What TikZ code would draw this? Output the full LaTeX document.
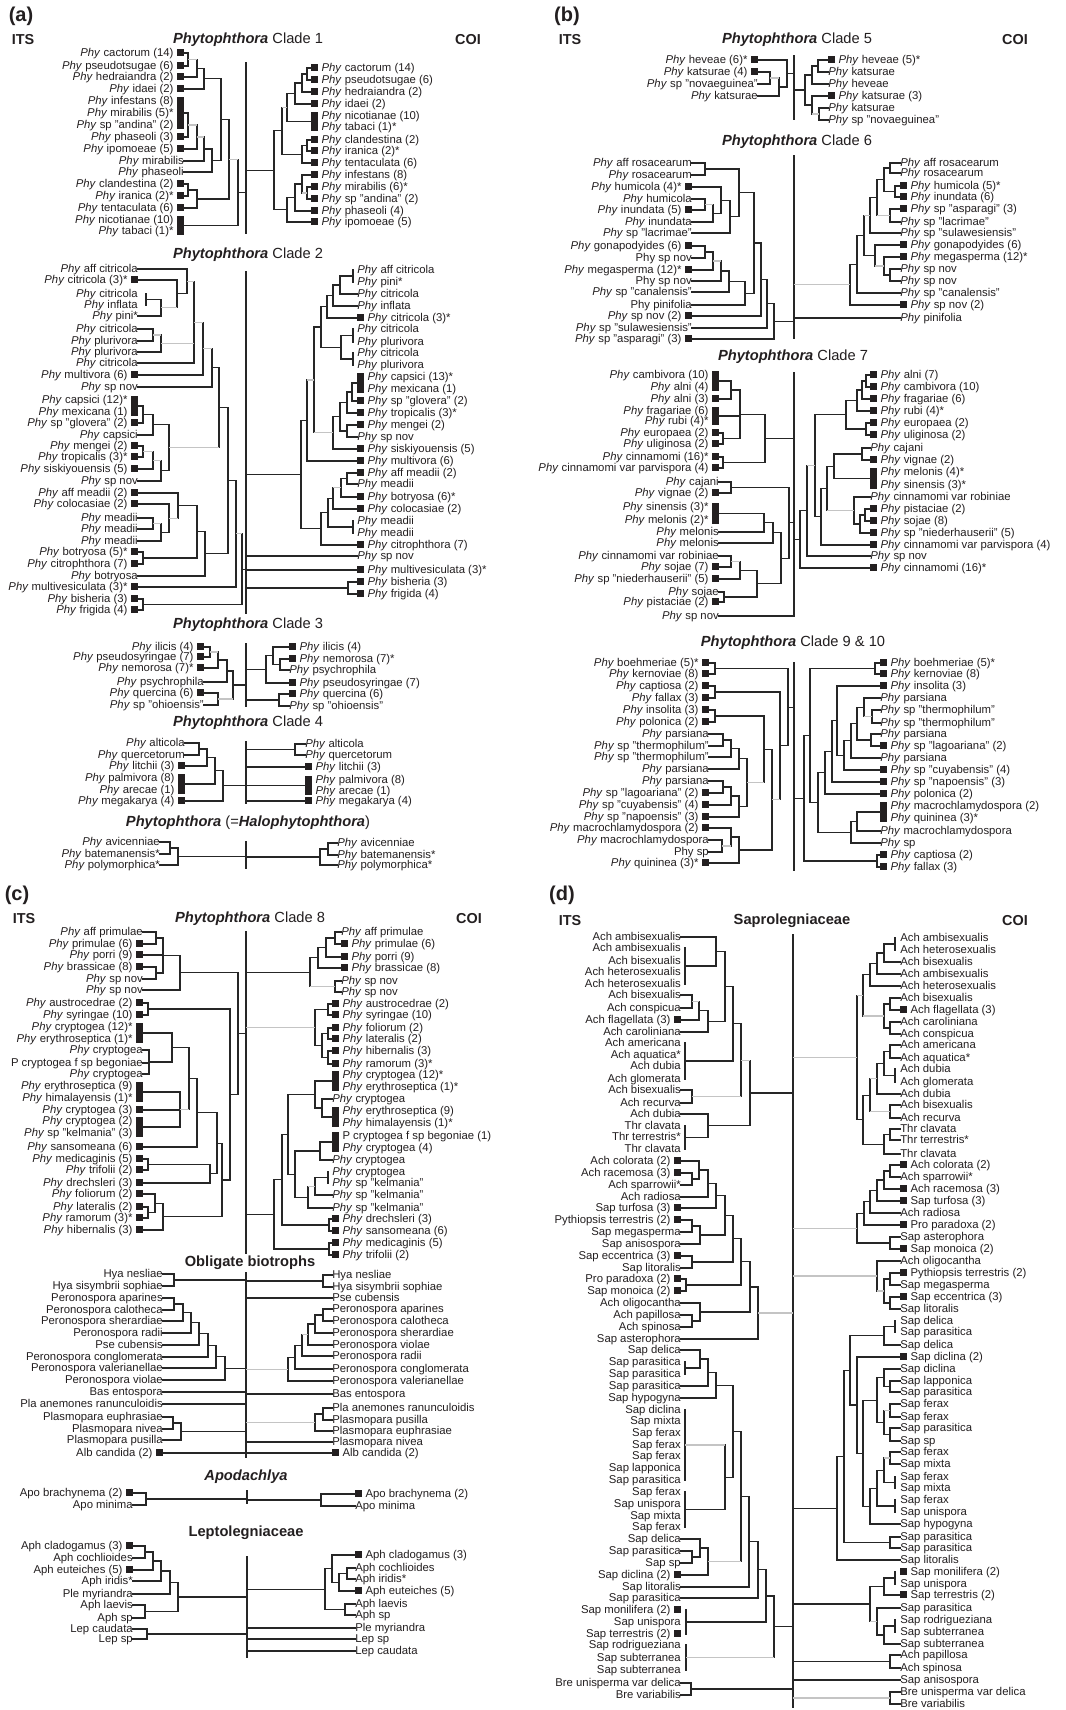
\documentclass[tikz,border=0pt]{standalone}
\usepackage{fontspec}
\setmainfont{Liberation Sans}
\usetikzlibrary{calc}
\definecolor{lc}{HTML}{262626}
\definecolor{gc}{HTML}{C4C4C4}
\definecolor{tc}{HTML}{231F20}
\newcommand\leaffont{\fontsize{8.5}{10}\selectfont}
\newcommand\ttlfont{\fontsize{11}{13}\selectfont}
\newcommand\pnlfont{\fontsize{15}{18}\selectfont\bfseries}
\newcommand\hdrfont{\fontsize{10.8}{13}\selectfont\bfseries}
\newcommand\Ph{\textit{Phy} }
\newcommand\sqbox{\rule{5.2pt}{5.2pt}}
\newcommand\sL{\hspace{2.5pt}\sqbox}
\newcommand\sR{\sqbox\hspace{2.5pt}}
\newcommand\pL{\hspace{2.5pt}\phantom{\sqbox}}
\newcommand\pR{\phantom{\sqbox}\hspace{2.5pt}}
\newcommand\Phyt{\textbf{\textit{Phytophthora}}}
\tikzset{
 br/.style={draw=lc,line width=0.85pt,line cap=rect},
 brg/.style={draw=gc,line width=0.85pt},
 lf/.style={inner sep=0pt,text height=6.2pt,text depth=1.6pt,font=\leaffont,text=tc},
 ttl/.style={inner sep=0pt,font=\ttlfont,text=tc},
 pnl/.style={inner sep=0pt,font=\pnlfont,text=tc},
 hdr/.style={inner sep=0pt,font=\hdrfont,text=tc}
}
\newcommand\lfL[3]{\node[lf,anchor=east] (#1) at (\XL,#2) {#3};}
\newcommand\lfR[3]{\node[lf,anchor=west] (#1) at (\XR,#2) {#3};}
\newcommand\grpL[3]{\fill[tc] ({\XL-6.9},{#2-3.6}) rectangle (\XL,{#3+3.6});\coordinate (#1) at (\XL,{(#2+#3)/2});}
\newcommand\grpR[3]{\fill[tc] (\XR,{#2-3.6}) rectangle ({\XR+6.9},{#3+3.6});\coordinate (#1) at (\XR,{(#2+#3)/2});}
\newcommand\inode[3]{%
 \coordinate (tmpx) at (#2,0);
 \foreach \kid [count=\kn] in {#3}{%
   \ifnum\kn=1 \xdef\firstc{\kid}\fi
   \xdef\lastc{\kid}%
   \draw[br] (\kid) -- (\kid -| tmpx);
 }%
 \draw[br] (\firstc -| tmpx) -- (\lastc -| tmpx);
 \path (\firstc -| tmpx) -- (\lastc -| tmpx) coordinate[pos=0.5] (#1);
}
\newcommand\vbr[4]{%
 \coordinate (tmpx) at (#2,0);
 \draw[br] (#3 -| tmpx) -- (#4 -| tmpx);
 \path (#3 -| tmpx) -- (#4 -| tmpx) coordinate[pos=0.5] (#1);
}
\newcommand\gry[2]{\draw[brg] (#1) -- (#1 -| #2);}
\newcommand\ctr[2]{\draw[br] (#1) -- (#1 -| #2);}
\newcommand\ctrg[2]{\draw[brg] (#1) -- (#1 -| #2);}
\begin{document}
\begin{tikzpicture}[x=0.75pt,y=-0.75pt]
\fill[white] (0,0) rectangle (1065,1710);
\useasboundingbox (0,0) rectangle (1065,1710);
% ================= PANEL A =================
\node[pnl] (pa) at (21,16) {(a)};
\node[hdr] (itsa) at (23,40) {ITS};
\node[hdr] (coia) at (468,40) {COI};
\node[ttl] (t1) at (248,40) {\Phyt\ Clade 1};
% ---- Clade 1 ITS
\def\XL{184}
\lfL{a1l1}{53}{\Ph cactorum (14)\sL}
\lfL{a1l2}{66}{\Ph pseudotsugae (6)\sL}
\lfL{a1l3}{77}{\Ph hedraiandra (2)\sL}
\lfL{a1l4}{89}{\Ph idaei (2)\sL}
\lfL{a1l5}{101}{\Ph infestans (8)\pL}
\lfL{a1l6}{113}{\Ph mirabilis (5)*\pL}
\lfL{a1l7}{125}{\Ph sp "andina" (2)\pL}
\grpL{a1g1}{101}{125}
\lfL{a1l8}{137}{\Ph phaseoli (3)\sL}
\lfL{a1l9}{149}{\Ph ipomoeae (5)\sL}
\lfL{a1l10}{161}{\Ph mirabilis}
\lfL{a1l11}{172}{\Ph phaseoli}
\lfL{a1l12}{184}{\Ph clandestina (2)\sL}
\lfL{a1l13}{196}{\Ph iranica (2)*\sL}
\lfL{a1l14}{208}{\Ph tentaculata (6)\sL}
\lfL{a1l15}{220}{\Ph nicotianae (10)\pL}
\lfL{a1l16}{231}{\Ph tabaci (1)*\pL}
\grpL{a1g2}{220}{231}
\inode{a1lA}{188}{a1l1,a1l2}
\inode{a1lB}{197}{a1lA,a1l3}\gry{a1lA}{a1lB}
\inode{a1lC}{204}{a1lB,a1l4}
\inode{a1lD}{188}{a1g1,a1l8}
\inode{a1lE}{197}{a1lD,a1l9}\gry{a1lD}{a1lE}
\inode{a1lF}{204}{a1lE,a1l10}\gry{a1lE}{a1lF}
\inode{a1lG}{212}{a1lF,a1l11}
\inode{a1lH}{221}{a1lC,a1lG}
\inode{a1lI}{188}{a1l12,a1l13}
\inode{a1lJ}{197}{a1lI,a1l14}
\inode{a1lK}{229}{a1lH,a1lJ}
\inode{a1lL}{238}{a1lK,a1g2}\gry{a1lK}{a1lL}
\coordinate (a1c) at (246,63); \coordinate (a1cb) at (246,233);
\draw[br] (a1c) -- (a1cb);
\ctr{a1lL}{a1c}
% ---- Clade 1 COI
\def\XR{311}
\lfR{a1r1}{68}{\sR\Ph cactorum (14)}
\lfR{a1r2}{80}{\sR\Ph pseudotsugae (6)}
\lfR{a1r3}{92}{\sR\Ph hedraiandra (2)}
\lfR{a1r4}{104}{\sR\Ph idaei (2)}
\lfR{a1r5}{116}{\pR\Ph nicotianae (10)}
\lfR{a1r6}{127}{\pR\Ph tabaci (1)*}
\grpR{a1h1}{116}{127}
\lfR{a1r7}{140}{\sR\Ph clandestina (2)}
\lfR{a1r8}{151}{\sR\Ph iranica (2)*}
\lfR{a1r9}{163}{\sR\Ph tentaculata (6)}
\lfR{a1r10}{175}{\sR\Ph infestans (8)}
\lfR{a1r11}{187}{\sR\Ph mirabilis (6)*}
\lfR{a1r12}{199}{\sR\Ph sp "andina" (2)}
\lfR{a1r13}{211}{\sR\Ph phaseoli (4)}
\lfR{a1r14}{222}{\sR\Ph ipomoeae (5)}
\inode{a1rA}{307}{a1r1,a1r2}
\inode{a1rB}{302}{a1rA,a1r3}
\inode{a1rC}{295}{a1rB,a1r4}
\inode{a1rD}{287}{a1rC,a1h1}
\inode{a1rE}{307}{a1r7,a1r8}
\inode{a1rF}{302}{a1rE,a1r9}
\inode{a1rG}{282}{a1rD,a1rF}\gry{a1rD}{a1rG}
\inode{a1rH}{307}{a1r11,a1r12}
\inode{a1rI}{302}{a1r10,a1rH}\gry{a1rH}{a1rI}
\inode{a1rJ}{295}{a1rI,a1r13}
\inode{a1rK}{287}{a1rJ,a1r14}
\inode{a1rL}{274}{a1rG,a1rK}
\ctr{a1rL}{a1c}
% ---- Clade 2
\node[ttl] (t2) at (248,255) {\Phyt\ Clade 2};
\def\XL{138}
\lfL{a2l1}{269}{\Ph aff citricola}
\lfL{a2l2}{280}{\Ph citricola (3)*\sL}
\lfL{a2l3}{294}{\Ph citricola}
\lfL{a2l4}{305}{\Ph inflata}
\lfL{a2l5}{316}{\Ph pini*}
\lfL{a2l6}{329}{\Ph citricola}
\lfL{a2l7}{341}{\Ph plurivora}
\lfL{a2l8}{352}{\Ph plurivora}
\lfL{a2l9}{363}{\Ph citricola}
\lfL{a2l10}{375}{\Ph multivora (6)\sL}
\lfL{a2l11}{387}{\Ph sp nov}
\lfL{a2l12}{400}{\Ph capsici (12)*\pL}
\lfL{a2l13}{412}{\Ph mexicana (1)\pL}
\grpL{a2g1}{400}{412}
\lfL{a2l14}{423}{\Ph sp "glovera" (2)\sL}
\lfL{a2l15}{435}{\Ph capsici}
\lfL{a2l16}{446}{\Ph mengei (2)\sL}
\lfL{a2l17}{457}{\Ph tropicalis (3)*\sL}
\lfL{a2l18}{469}{\Ph siskiyouensis (5)\sL}
\lfL{a2l19}{481}{\Ph sp nov}
\lfL{a2l20}{493}{\Ph aff meadii (2)\sL}
\lfL{a2l21}{504}{\Ph colocasiae (2)\sL}
\lfL{a2l22}{518}{\Ph meadii}
\lfL{a2l23}{529}{\Ph meadii}
\lfL{a2l24}{541}{\Ph meadii}
\lfL{a2l25}{552}{\Ph botryosa (5)*\sL}
\lfL{a2l26}{564}{\Ph citrophthora (7)\sL}
\lfL{a2l27}{576}{\Ph botryosa}
\lfL{a2l28}{587}{\Ph multivesiculata (3)*\sL}
\lfL{a2l29}{599}{\Ph bisheria (3)\sL}
\lfL{a2l30}{610}{\Ph frigida (4)\sL}
\vbr{a2lA}{146}{a2l3}{a2l4}
\inode{a2lB}{161}{a2lA,a2l5}
\inode{a2lC}{177}{a2l2,a2lB}\gry{a2lB}{a2lC}
\inode{a2lG}{187}{a2l1,a2lC}
\inode{a2lD}{153}{a2l6,a2l7}
\inode{a2lE}{161}{a2lD,a2l8}\gry{a2lD}{a2lE}
\inode{a2lH}{194}{a2lG,a2lE,a2l9}\gry{a2lG}{a2lH}\gry{a2lE}{a2lH}
\inode{a2lI}{203}{a2lH,a2l10}\gry{a2lH}{a2lI}
\inode{a2lJ}{212}{a2lI,a2l11}\gry{a2lI}{a2lJ}
\inode{a2lK}{143}{a2g1,a2l14}
\inode{a2lL}{153}{a2lK,a2l15}
\inode{a2lM}{143}{a2l16,a2l17}
\inode{a2lN}{153}{a2lM,a2l18}\gry{a2lM}{a2lN}
\inode{a2lO}{161}{a2lN,a2l19}\gry{a2lN}{a2lO}
\inode{a2lP}{169}{a2lL,a2lO}
\inode{a2lQ}{219}{a2lJ,a2lP}\gry{a2lP}{a2lQ}
\inode{a2lR}{153}{a2l22,a2l23}
\inode{a2lS}{161}{a2lR,a2l24}\gry{a2lR}{a2lS}
\inode{a2lT0}{169}{a2l21,a2lS}
\inode{a2lT}{178}{a2l20,a2lT0}\gry{a2lT0}{a2lT}
\inode{a2lU}{143}{a2l25,a2l26}
\inode{a2lV}{197}{a2lT,a2lU}
\inode{a2lW}{205}{a2lV,a2l27}
\inode{a2lX}{228}{a2lQ,a2lW}
\inode{a2lY}{236}{a2lX,a2l28}
\inode{a2lZ}{143}{a2l29,a2l30}
\inode{a2lRt}{242}{a2lY,a2lZ}\gry{a2lY}{a2lRt}
\coordinate (a2c) at (246,272); \coordinate (a2cb) at (246,613);
\draw[br] (a2c) -- (a2cb);
\ctr{a2lRt}{a2c}
\def\XR{357}
\lfR{a2r1}{270}{\Ph aff citricola}
\lfR{a2r2}{282}{\Ph pini*}
\lfR{a2r3}{294}{\Ph citricola}
\lfR{a2r4}{306}{\Ph inflata}
\lfR{a2r5}{318}{\sR\Ph citricola (3)*}
\lfR{a2r6}{329}{\Ph citricola}
\lfR{a2r7}{342}{\Ph plurivora}
\lfR{a2r8}{353}{\Ph citricola}
\lfR{a2r9}{365}{\Ph plurivora}
\lfR{a2r10}{377}{\pR\Ph capsici (13)*}
\lfR{a2r11}{389}{\pR\Ph mexicana (1)}
\grpR{a2h1}{377}{389}
\lfR{a2r12}{401}{\sR\Ph sp "glovera" (2)}
\lfR{a2r13}{413}{\sR\Ph tropicalis (3)*}
\lfR{a2r14}{425}{\sR\Ph mengei (2)}
\lfR{a2r15}{437}{\Ph sp nov}
\lfR{a2r16}{449}{\sR\Ph siskiyouensis (5)}
\lfR{a2r17}{461}{\sR\Ph multivora (6)}
\lfR{a2r18}{473}{\sR\Ph aff meadii (2)}
\lfR{a2r19}{484}{\Ph meadii}
\lfR{a2r20}{497}{\sR\Ph botryosa (6)*}
\lfR{a2r21}{509}{\sR\Ph colocasiae (2)}
\lfR{a2r22}{521}{\Ph meadii}
\lfR{a2r23}{533}{\Ph meadii}
\lfR{a2r24}{545}{\sR\Ph citrophthora (7)}
\lfR{a2r25}{556}{\Ph sp nov}
\lfR{a2r26}{570}{\sR\Ph multivesiculata (3)*}
\lfR{a2r27}{582}{\sR\Ph bisheria (3)}
\lfR{a2r28}{594}{\sR\Ph frigida (4)}
\vbr{a2rb1}{353}{a2r1}{a2r2}
\inode{a2rA}{340}{a2rb1,a2r3}
\inode{a2rB}{333}{a2rA,a2r4}
\inode{a2rC}{327}{a2rB,a2r5}
\vbr{a2rb2}{353}{a2r6}{a2r7}
\vbr{a2rb3}{353}{a2r8}{a2r9}
\inode{a2rD}{341}{a2rb2,a2rb3}
\inode{a2rE}{321}{a2rC,a2rD}
\inode{a2rF0}{352}{a2h1,a2r12}
\inode{a2rF1}{347}{a2rF0,a2r13}
\inode{a2rF2}{347}{a2r14,a2r15}
\inode{a2rF3}{340}{a2rF1,a2rF2}
\inode{a2rF4}{333}{a2rF3,a2r16}
\inode{a2rF}{314}{a2rE,a2rF4}\gry{a2rF4}{a2rF}
\inode{a2rG}{307}{a2rF,a2r17}\gry{a2rF}{a2rG}
\inode{a2rH0}{347}{a2r18,a2r19}
\inode{a2rH1}{341}{a2rH0,a2r20}
\inode{a2rH2}{333}{a2rH1,a2r21}\gry{a2rH1}{a2rH2}
\vbr{a2rb4}{353}{a2r22}{a2r23}
\inode{a2rH3}{328}{a2rH2,a2rb4}
\inode{a2rH4}{321}{a2rH3,a2r24}
\inode{a2rI}{301}{a2rG,a2rH4}
\ctr{a2rI}{a2c}
\ctr{a2r25}{a2c}
\ctr{a2r26}{a2c}
\inode{a2rJ}{348}{a2r27,a2r28}
\ctr{a2rJ}{a2c}
% ---- Clade 3
\node[ttl] (t3) at (248,625) {\Phyt\ Clade 3};
\def\XL{204}
\lfL{a3l1}{647}{\Ph ilicis (4)\sL}
\lfL{a3l2}{657}{\Ph pseudosyringae (7)\sL}
\lfL{a3l3}{668}{\Ph nemorosa (7)*\sL}
\lfL{a3l4}{682}{\Ph psychrophila}
\lfL{a3l5}{693}{\Ph quercina (6)\sL}
\lfL{a3l6}{705}{\Ph sp "ohioensis"}
\inode{a3lA}{210}{a3l1,a3l2}
\inode{a3lB}{218}{a3lA,a3l3}\gry{a3lA}{a3lB}
\inode{a3lC}{227}{a3lB,a3l4}
\inode{a3lD}{218}{a3l5,a3l6}
\inode{a3lE}{233}{a3lC,a3lD}\gry{a3lD}{a3lE}
\coordinate (a3c) at (246,644); \coordinate (a3cb) at (246,706);
\draw[br] (a3c) -- (a3cb);
\ctr{a3lE}{a3c}
\def\XR{289}
\lfR{a3r1}{647}{\sR\Ph ilicis (4)}
\lfR{a3r2}{659}{\sR\Ph nemorosa (7)*}
\lfR{a3r3}{670}{\Ph psychrophila}
\lfR{a3r4}{683}{\sR\Ph pseudosyringae (7)}
\lfR{a3r5}{694}{\sR\Ph quercina (6)}
\lfR{a3r6}{706}{\Ph sp "ohioensis"}
\inode{a3rA}{280}{a3r2,a3r3}
\inode{a3rB}{273}{a3r1,a3rA}
\inode{a3rC}{266}{a3rB,a3r4}
\ctr{a3rC}{a3c}
\inode{a3rD}{279}{a3r5,a3r6}
\ctr{a3rD}{a3c}
% ---- Clade 4
\node[ttl] (t4) at (248,723) {\Phyt\ Clade 4};
\def\XL{185}
\lfL{a4l1}{743}{\Ph alticola}
\lfL{a4l2}{755}{\Ph quercetorum}
\lfL{a4l3}{766}{\Ph litchii (3)\sL}
\lfL{a4l4}{778}{\Ph palmivora (8)\pL}
\lfL{a4l5}{790}{\Ph arecae (1)\pL}
\grpL{a4g1}{778}{790}
\lfL{a4l6}{801}{\Ph megakarya (4)\sL}
\inode{a4lA}{199}{a4l1,a4l2}
\inode{a4lB}{207}{a4lA,a4l3}
\inode{a4lC}{215}{a4lB,a4g1}
\inode{a4lD}{223}{a4lC,a4l6}
\coordinate (a4c) at (246,742); \coordinate (a4cb) at (246,803);
\draw[br] (a4c) -- (a4cb);
\ctr{a4lD}{a4c}
\def\XR{305}
\lfR{a4r1}{744}{\Ph alticola}
\lfR{a4r2}{755}{\Ph quercetorum}
\lfR{a4r3}{767}{\sR\Ph litchii (3)}
\lfR{a4r4}{780}{\pR\Ph palmivora (8)}
\lfR{a4r5}{791}{\pR\Ph arecae (1)}
\grpR{a4h1}{780}{791}
\lfR{a4r6}{801}{\sR\Ph megakarya (4)}
\inode{a4rA}{295}{a4r1,a4r2}
\ctr{a4rA}{a4c}
\ctr{a4r3}{a4c}
\ctr{a4h1}{a4c}
\ctr{a4r6}{a4c}
% ---- Halophytophthora
\node[ttl] (t5) at (248,823) {\Phyt\ (=\textbf{\textit{Halophytophthora}})};
\def\XL{160}
\lfL{ahl1}{842}{\Ph avicenniae}
\lfL{ahl2}{854}{\Ph batemanensis*}
\lfL{ahl3}{865}{\Ph polymorphica*}
\inode{ahlA}{170}{ahl1,ahl2}
\inode{ahlB}{178}{ahlA,ahl3}
\coordinate (ahc) at (246,842); \coordinate (ahcb) at (246,868);
\draw[br] (ahc) -- (ahcb);
\ctr{ahlB}{ahc}
\def\XR{337}
\lfR{ahr1}{843}{\Ph avicenniae}
\lfR{ahr2}{855}{\Ph batemanensis*}
\lfR{ahr3}{865}{\Ph polymorphica*}
\inode{ahrA}{328}{ahr1,ahr2}
\inode{ahrB}{320}{ahrA,ahr3}
\ctr{ahrB}{ahc}
% ================= PANEL B =================
\node[pnl] (pb) at (567,16) {(b)};
\node[hdr] (itsb) at (570,40) {ITS};
\node[hdr] (coib) at (1015,40) {COI};
\node[ttl] (t6) at (797,40) {\Phyt\ Clade 5};
\def\XL{758}
\lfL{b5l1}{60}{\Ph heveae (6)*\sL}
\lfL{b5l2}{72}{\Ph katsurae (4)\sL}
\lfL{b5l3}{84}{\Ph sp "novaeguinea"}
\lfL{b5l4}{96}{\Ph katsurae}
\inode{b5lA}{770}{b5l2,b5l3}
\inode{b5lB}{779}{b5lA,b5l4}\gry{b5lA}{b5lB}
\inode{b5lC}{787}{b5l1,b5lB}
\coordinate (b5c) at (794,56); \coordinate (b5cb) at (794,119);
\draw[br] (b5c) -- (b5cb);
\ctr{b5lC}{b5c}
\def\XR{828}
\lfR{b5r1}{60}{\sR\Ph heveae (5)*}
\lfR{b5r2}{72}{\Ph katsurae}
\lfR{b5r3}{84}{\Ph heveae}
\lfR{b5r4}{96}{\sR\Ph katsurae (3)}
\lfR{b5r5}{108}{\Ph katsurae}
\lfR{b5r6}{120}{\Ph sp "novaeguinea"}
\inode{b5rA}{818}{b5r1,b5r2}
\inode{b5rB}{812}{b5rA,b5r3}
\inode{b5rC}{819}{b5r5,b5r6}
\inode{b5rD}{812}{b5r4,b5rC}\gry{b5rC}{b5rD}
\inode{b5rE}{805}{b5rB,b5rD}
\ctr{b5rE}{b5c}
% ---- Clade 6
\node[ttl] (t7) at (797,142) {\Phyt\ Clade 6};
\def\XL{692}
\lfL{b6l1}{163}{\Ph aff rosacearum}
\lfL{b6l2}{175}{\Ph rosacearum}
\lfL{b6l3}{187}{\Ph humicola (4)*\sL}
\lfL{b6l4}{199}{\Ph humicola}
\lfL{b6l5}{210}{\Ph inundata (5)\sL}
\lfL{b6l6}{222}{\Ph inundata}
\lfL{b6l7}{233}{\Ph sp "lacrimae"}
\lfL{b6l8}{246}{\Ph gonapodyides (6)\sL}
\lfL{b6l9}{258}{Phy sp nov}
\lfL{b6l10}{270}{\Ph megasperma (12)*\sL}
\lfL{b6l11}{281}{Phy sp nov}
\lfL{b6l12}{292}{\Ph sp "canalensis"}
\lfL{b6l13}{305}{Phy pinifolia}
\lfL{b6l14}{316}{\Ph sp nov (2)\sL}
\lfL{b6l15}{328}{\Ph sp "sulawesiensis"}
\lfL{b6l16}{339}{\Ph sp "asparagi" (3)\sL}
\inode{b6lA}{705}{b6l1,b6l2}
\inode{b6lB}{705}{b6l4,b6l5}
\inode{b6lC}{713}{b6lB,b6l6}\gry{b6lB}{b6lC}
\inode{b6lD}{721}{b6l3,b6lC}
\inode{b6lE}{730}{b6lD,b6l7}
\inode{b6lF}{739}{b6lA,b6lE}
\inode{b6lG}{705}{b6l8,b6l9}
\inode{b6lH}{713}{b6lG,b6l10}
\inode{b6lI}{721}{b6lH,b6l11}\gry{b6lH}{b6lI}
\inode{b6lJ}{729}{b6lI,b6l12}
\inode{b6lK}{745}{b6lJ,b6l13}
\inode{b6lL}{754}{b6lF,b6lK}
\inode{b6lM}{761}{b6lL,b6l14}
\inode{b6lN}{767}{b6lM,b6l15}
\inode{b6lO}{774}{b6lN,b6l16}
\coordinate (b6c) at (794,156); \coordinate (b6cb) at (794,338);
\draw[br] (b6c) -- (b6cb);
\ctr{b6lO}{b6c}
\def\XR{900}
\lfR{b6r1}{163}{\Ph aff rosacearum}
\lfR{b6r2}{173}{\Ph rosacearum}
\lfR{b6r3}{186}{\sR\Ph humicola (5)*}
\lfR{b6r4}{197}{\sR\Ph inundata (6)}
\lfR{b6r5}{209}{\sR\Ph sp "asparagi" (3)}
\lfR{b6r6}{222}{\Ph sp "lacrimae"}
\lfR{b6r7}{233}{\Ph sp "sulawesiensis"}
\lfR{b6r8}{245}{\sR\Ph gonapodyides (6)}
\lfR{b6r9}{257}{\sR\Ph megasperma (12)*}
\lfR{b6r10}{269}{\Ph sp nov}
\lfR{b6r11}{281}{\Ph sp nov}
\lfR{b6r12}{293}{\Ph sp "canalensis"}
\lfR{b6r13}{305}{\sR\Ph sp nov (2)}
\lfR{b6r14}{318}{\Ph pinifolia}
\inode{b6rA}{890}{b6r1,b6r2}
\inode{b6rB}{895}{b6r3,b6r4}
\inode{b6rC}{884}{b6rA,b6rB}
\inode{b6rD}{890}{b6r5,b6r6}
\inode{b6rE}{877}{b6rC,b6rD}\gry{b6rD}{b6rE}
\inode{b6rF}{870}{b6rE,b6r7}
\inode{b6rG}{890}{b6r10,b6r11}
\inode{b6rH}{884}{b6r9,b6rG}
\inode{b6rI}{875}{b6r8,b6rH}\gry{b6rH}{b6rI}
\inode{b6rJ}{864}{b6rF,b6rI}\gry{b6rF}{b6rJ}
\inode{b6rK}{857}{b6rJ,b6r12}
\inode{b6rL}{850}{b6rK,b6r13}
\ctrg{b6rL}{b6c}
\ctr{b6r14}{b6c}
% ---- Clade 7
\node[ttl] (t8) at (793,357) {\Phyt\ Clade 7};
\def\XL{719}
\lfL{b7l1}{375}{\Ph cambivora (10)\pL}
\lfL{b7l2}{387}{\Ph alni (4)\pL}
\grpL{b7g1}{375}{387}
\lfL{b7l3}{399}{\Ph alni (3)\sL}
\lfL{b7l4}{411}{\Ph fragariae (6)\pL}
\lfL{b7l5}{421}{\Ph rubi (4)*\pL}
\grpL{b7g2}{411}{421}
\lfL{b7l6}{433}{\Ph europaea (2)\sL}
\lfL{b7l7}{444}{\Ph uliginosa (2)\sL}
\lfL{b7l8}{457}{\Ph cinnamomi (16)*\sL}
\lfL{b7l9}{468}{\Ph cinnamomi var parvispora (4)\sL}
\lfL{b7l10}{482}{\Ph cajani}
\lfL{b7l11}{493}{\Ph vignae (2)\sL}
\lfL{b7l12}{507}{\Ph sinensis (3)*\pL}
\lfL{b7l13}{520}{\Ph melonis (2)*\pL}
\grpL{b7g3}{507}{520}
\lfL{b7l14}{532}{\Ph melonis}
\lfL{b7l15}{543}{\Ph melonis}
\lfL{b7l16}{556}{\Ph cinnamomi var robiniae}
\lfL{b7l17}{567}{\Ph sojae (7)\sL}
\lfL{b7l18}{579}{\Ph sp "niederhauserii" (5)\sL}
\lfL{b7l19}{592}{\Ph sojae}
\lfL{b7l20}{602}{\Ph pistaciae (2)\sL}
\lfL{b7l21}{616}{\Ph sp nov}
\inode{b7lA}{731}{b7g1,b7l3}
\inode{b7lC}{723}{b7l6,b7l7}
\inode{b7lB}{740}{b7lA,b7g2,b7lC}
\inode{b7lDc}{723}{b7l8,b7l9}
\inode{b7lD}{765}{b7lB,b7lDc}
\inode{b7lE}{731}{b7l10,b7l11}
\inode{b7lF}{764}{b7g3,b7l14}
\inode{b7lG}{773}{b7lF,b7l15}
\inode{b7lH0}{731}{b7l16,b7l17}
\inode{b7lH}{740}{b7lH0,b7l18}\gry{b7lH0}{b7lH}
\inode{b7lK}{724}{b7l19,b7l20}
\inode{b7lJ}{757}{b7lH,b7lK}
\inode{b7lL}{781}{b7lG,b7lJ}
\inode{b7lM}{789}{b7lE,b7lL}
\coordinate (b7c) at (794,373); \coordinate (b7cb) at (794,616);
\draw[br] (b7c) -- (b7cb);
\ctr{b7lD}{b7c}
\ctr{b7lM}{b7c}
\ctr{b7l21}{b7c}
\def\XR{870}
\lfR{b7r1}{375}{\sR\Ph alni (7)}
\lfR{b7r2}{387}{\sR\Ph cambivora (10)}
\lfR{b7r3}{399}{\sR\Ph fragariae (6)}
\lfR{b7r4}{411}{\sR\Ph rubi (4)*}
\lfR{b7r5}{423}{\sR\Ph europaea (2)}
\lfR{b7r6}{435}{\sR\Ph uliginosa (2)}
\lfR{b7r7}{448}{\Ph cajani}
\lfR{b7r8}{460}{\sR\Ph vignae (2)}
\lfR{b7r9}{472}{\pR\Ph melonis (4)*}
\lfR{b7r10}{485}{\pR\Ph sinensis (3)*}
\grpR{b7h1}{472}{485}
\lfR{b7r11}{497}{\Ph cinnamomi var robiniae}
\lfR{b7r12}{509}{\sR\Ph pistaciae (2)}
\lfR{b7r13}{521}{\sR\Ph sojae (8)}
\lfR{b7r14}{533}{\sR\Ph sp "niederhauserii" (5)}
\lfR{b7r15}{545}{\sR\Ph cinnamomi var parvispora (4)}
\lfR{b7r16}{556}{\Ph sp nov}
\lfR{b7r17}{568}{\sR\Ph cinnamomi (16)*}
\inode{b7rA}{866}{b7r1,b7r2}
\inode{b7rB}{862}{b7rA,b7r3}
\inode{b7rC}{857}{b7rB,b7r4}
\inode{b7rD}{866}{b7r5,b7r6}
\inode{b7rE}{846}{b7rC,b7rD}
\inode{b7rF}{862}{b7r7,b7r8}
\inode{b7rG}{834}{b7rF,b7h1}
\inode{b7rH0}{865}{b7r12,b7r13}
\inode{b7rH}{860}{b7rH0,b7r14}
\inode{b7rI}{854}{b7r11,b7rH}
\inode{b7rJ}{827}{b7rG,b7rI}\gry{b7rI}{b7rJ}
\inode{b7rK}{821}{b7rJ,b7r15}
\inode{b7rL}{815}{b7rE,b7rK}
\inode{b7rM}{807}{b7rL,b7r16}\gry{b7rL}{b7rM}
\inode{b7rN}{800}{b7rM,b7r17}
\ctr{b7rN}{b7c}
% ---- Clade 9 & 10
\node[ttl] (t9) at (793,643) {\Phyt\ Clade 9 \& 10};
\def\XL{709}
\lfL{b9l1}{663}{\Ph boehmeriae (5)*\sL}
\lfL{b9l2}{674}{\Ph kernoviae (8)\sL}
\lfL{b9l3}{686}{\Ph captiosa (2)\sL}
\lfL{b9l4}{698}{\Ph fallax (3)\sL}
\lfL{b9l5}{710}{\Ph insolita (3)\sL}
\lfL{b9l6}{722}{\Ph polonica (2)\sL}
\lfL{b9l7}{734}{\Ph parsiana}
\lfL{b9l8}{746}{\Ph sp "thermophilum"}
\lfL{b9l9}{757}{\Ph sp "thermophilum"}
\lfL{b9l10}{769}{\Ph parsiana}
\lfL{b9l11}{781}{\Ph parsiana}
\lfL{b9l12}{793}{\Ph sp "lagoariana" (2)\sL}
\lfL{b9l13}{805}{\Ph sp "cuyabensis" (4)\sL}
\lfL{b9l14}{817}{\Ph sp "napoensis" (3)\sL}
\lfL{b9l15}{828}{\Ph macrochlamydospora (2)\sL}
\lfL{b9l16}{840}{\Ph macrochlamydospora}
\lfL{b9l17}{852}{Phy sp}
\lfL{b9l18}{863}{\Ph quininea (3)*\sL}
\inode{b9lA}{715}{b9l1,b9l2}
\inode{b9lB}{715}{b9l3,b9l4}
\inode{b9lC}{715}{b9l5,b9l6}
\inode{b9lD}{723}{b9l7,b9l8}
\inode{b9lE}{731}{b9lD,b9l9}
\inode{b9lF}{739}{b9lE,b9l10}
\inode{b9lG}{723}{b9l11,b9l12}
\inode{b9lH}{731}{b9lG,b9l13}
\inode{b9lI}{739}{b9lH,b9l14}
\inode{b9lJ}{747}{b9lF,b9lI}
\inode{b9lK}{764}{b9lC,b9lJ}\gry{b9lJ}{b9lK}
\inode{b9lL0}{722}{b9l16,b9l17}
\inode{b9lL}{731}{b9l15,b9lL0}\gry{b9lL0}{b9lL}
\inode{b9lM}{739}{b9lL,b9l18}
\inode{b9lN}{772}{b9lK,b9lM}
\inode{b9lO}{780}{b9lB,b9lN}\gry{b9lN}{b9lO}
\inode{b9lP}{788}{b9lA,b9lO}
\coordinate (b9c) at (794,663); \coordinate (b9cb) at (794,870);
\draw[br] (b9c) -- (b9cb);
\ctr{b9lP}{b9c}
\def\XR{880}
\lfR{b9r1}{663}{\sR\Ph boehmeriae (5)*}
\lfR{b9r2}{674}{\sR\Ph kernoviae (8)}
\lfR{b9r3}{686}{\sR\Ph insolita (3)}
\lfR{b9r4}{698}{\Ph parsiana}
\lfR{b9r5}{710}{\Ph sp "thermophilum"}
\lfR{b9r6}{723}{\Ph sp "thermophilum"}
\lfR{b9r7}{734}{\Ph parsiana}
\lfR{b9r8}{746}{\sR\Ph sp "lagoariana" (2)}
\lfR{b9r9}{758}{\Ph parsiana}
\lfR{b9r10}{770}{\sR\Ph sp "cuyabensis" (4)}
\lfR{b9r11}{782}{\sR\Ph sp "napoensis" (3)}
\lfR{b9r12}{794}{\sR\Ph polonica (2)}
\lfR{b9r13}{806}{\pR\Ph macrochlamydospora (2)}
\lfR{b9r14}{818}{\pR\Ph quininea (3)*}
\grpR{b9h1}{806}{818}
\lfR{b9r15}{831}{\Ph macrochlamydospora}
\lfR{b9r16}{843}{\Ph sp}
\lfR{b9r17}{855}{\sR\Ph captiosa (2)}
\lfR{b9r18}{867}{\sR\Ph fallax (3)}
\inode{b9rA}{875}{b9r1,b9r2}
\inode{b9rB0}{872}{b9r5,b9r6}
\inode{b9rB}{864}{b9r4,b9rB0}\gry{b9rB0}{b9rB}
\inode{b9rC}{871}{b9r7,b9r8}
\inode{b9rD}{857}{b9rB,b9rC}
\inode{b9rE}{851}{b9rD,b9r9}
\inode{b9rF}{844}{b9rE,b9r10}
\inode{b9rG}{837}{b9r3,b9rF}
\inode{b9rH}{832}{b9rG,b9r11}
\inode{b9rI}{825}{b9rH,b9r12}
\inode{b9rJ0}{857}{b9h1,b9r15}
\inode{b9rJ}{851}{b9rJ0,b9r16}
\inode{b9rK}{818}{b9rI,b9rJ}
\inode{b9rL}{810}{b9rA,b9rK}
\inode{b9rM}{877}{b9r17,b9r18}
\inode{b9rR}{804}{b9rL,b9rM}
\ctr{b9rR}{b9c}
% ================= PANEL C =================
\node[pnl] (pc) at (17,895) {(c)};
\node[hdr] (itsc) at (24,919) {ITS};
\node[hdr] (coic) at (469,919) {COI};
\node[ttl] (t10) at (250,919) {\Phyt\ Clade 8};
\def\XL{143}
\lfL{c8l1}{932}{\Ph aff primulae}
\lfL{c8l2}{944}{\Ph primulae (6)\sL}
\lfL{c8l3}{955}{\Ph porri (9)\sL}
\lfL{c8l4}{967}{\Ph brassicae (8)\sL}
\lfL{c8l5}{979}{\Ph sp nov}
\lfL{c8l6}{990}{\Ph sp nov}
\lfL{c8l7}{1003}{\Ph austrocedrae (2)\sL}
\lfL{c8l8}{1015}{\Ph syringae (10)\sL}
\lfL{c8l9}{1027}{\Ph cryptogea (12)*\pL}
\lfL{c8l10}{1039}{\Ph erythroseptica (1)*\pL}
\grpL{c8g1}{1027}{1039}
\lfL{c8l11}{1050}{\Ph cryptogea}
\lfL{c8l12}{1063}{P cryptogea f sp begoniae}
\lfL{c8l13}{1074}{\Ph cryptogea}
\lfL{c8l14}{1086}{\Ph erythroseptica (9)\pL}
\lfL{c8l15}{1098}{\Ph himalayensis (1)*\pL}
\grpL{c8g2}{1086}{1098}
\lfL{c8l16}{1110}{\Ph cryptogea (3)\sL}
\lfL{c8l17}{1121}{\Ph cryptogea (2)\pL}
\lfL{c8l18}{1133}{\Ph sp "kelmania" (3)\pL}
\grpL{c8g3}{1121}{1133}
\lfL{c8l19}{1147}{\Ph sansomeana (6)\sL}
\lfL{c8l20}{1159}{\Ph medicaginis (5)\sL}
\lfL{c8l21}{1170}{\Ph trifolii (2)\sL}
\lfL{c8l22}{1183}{\Ph drechsleri (3)\sL}
\lfL{c8l23}{1194}{\Ph foliorum (2)\sL}
\lfL{c8l24}{1207}{\Ph lateralis (2)\sL}
\lfL{c8l25}{1218}{\Ph ramorum (3)*\sL}
\lfL{c8l26}{1230}{\Ph hibernalis (3)\sL}
\inode{c8lA}{156}{c8l1,c8l2}
\inode{c8lB}{156}{c8l4,c8l5}
\inode{c8lC}{163}{c8lA,c8l3,c8lB}
\inode{c8lD}{180}{c8lC,c8l6}
\inode{c8lE}{148}{c8l7,c8l8}
\inode{c8lF0}{149}{c8l11,c8l12,c8l13}
\inode{c8lF}{172}{c8g1,c8lF0}
\inode{c8lG}{180}{c8g2,c8l16,c8g3}
\inode{c8lH}{189}{c8lF,c8lG}\gry{c8lG}{c8lH}
\inode{c8lI}{197}{c8lH,c8l19}
\inode{c8lJ0}{148}{c8l20,c8l21}
\inode{c8lJ}{210}{c8lJ0,c8l22}
\inode{c8lK}{217}{c8lI,c8lJ}
\inode{c8lL0}{148}{c8l24,c8l25}
\inode{c8lL1}{155}{c8l23,c8lL0}
\inode{c8lL}{163}{c8lL1,c8l26}
\inode{c8lM}{222}{c8lK,c8lL}
\inode{c8lN}{230}{c8lE,c8lM}
\inode{c8lO}{238}{c8lD,c8lN}
\coordinate (c8c) at (246,932); \coordinate (c8cb) at (246,1253);
\draw[br] (c8c) -- (c8cb);
\ctr{c8lO}{c8c}
\def\XR{341}
\lfR{c8r1}{932}{\Ph aff primulae}
\lfR{c8r2}{944}{\sR\Ph primulae (6)}
\lfR{c8r3}{957}{\sR\Ph porri (9)}
\lfR{c8r4}{968}{\sR\Ph brassicae (8)}
\lfR{c8r5}{981}{\Ph sp nov}
\lfR{c8r6}{992}{\Ph sp nov}
\def\XR{332}
\lfR{c8r7}{1004}{\sR\Ph austrocedrae (2)}
\lfR{c8r8}{1015}{\sR\Ph syringae (10)}
\lfR{c8r9}{1028}{\sR\Ph foliorum (2)}
\lfR{c8r10}{1039}{\sR\Ph lateralis (2)}
\lfR{c8r11}{1051}{\sR\Ph hibernalis (3)}
\lfR{c8r12}{1064}{\sR\Ph ramorum (3)*}
\lfR{c8r13}{1075}{\pR\Ph cryptogea (12)*}
\lfR{c8r14}{1087}{\pR\Ph erythroseptica (1)*}
\grpR{c8h1}{1075}{1087}
\lfR{c8r15}{1099}{\Ph cryptogea}
\lfR{c8r16}{1111}{\pR\Ph erythroseptica (9)}
\lfR{c8r17}{1123}{\pR\Ph himalayensis (1)*}
\grpR{c8h2}{1111}{1123}
\lfR{c8r18}{1136}{\pR P cryptogea f sp begoniae (1)}
\lfR{c8r19}{1148}{\pR\Ph cryptogea (4)}
\grpR{c8h3}{1136}{1148}
\lfR{c8r20}{1160}{\Ph cryptogea}
\lfR{c8r21}{1172}{\Ph cryptogea}
\lfR{c8r22}{1183}{\Ph sp "kelmania"}
\lfR{c8r23}{1195}{\Ph sp "kelmania"}
\lfR{c8r24}{1208}{\Ph sp "kelmania"}
\lfR{c8r25}{1219}{\sR\Ph drechsleri (3)}
\lfR{c8r26}{1231}{\sR\Ph sansomeana (6)}
\lfR{c8r27}{1243}{\sR\Ph medicaginis (5)}
\lfR{c8r28}{1255}{\sR\Ph trifolii (2)}
\inode{c8rA}{335}{c8r1,c8r2}
\inode{c8rB}{326}{c8rA,c8r3}
\inode{c8rC}{318}{c8rB,c8r4}
\inode{c8rD}{335}{c8r5,c8r6}
\inode{c8rE}{310}{c8rC,c8rD}\gry{c8rD}{c8rE}
\ctr{c8rE}{c8c}
\inode{c8rF}{328}{c8r7,c8r8}
\inode{c8rG0}{328}{c8r9,c8r10}
\inode{c8rG1}{328}{c8r11,c8r12}
\inode{c8rG}{322}{c8rG0,c8rG1}
\inode{c8rH}{315}{c8rF,c8rG}
\ctrg{c8rH}{c8c}
\inode{c8rI}{322}{c8r15,c8h2}
\inode{c8rJ}{315}{c8h1,c8rI}
\inode{c8rK}{320}{c8h3,c8r20}
\vbr{c8rL0}{328}{c8r21}{c8r22}
\inode{c8rL}{315}{c8rL0,c8r23}
\inode{c8rLx}{308}{c8rL,c8r24}\gry{c8rL}{c8rLx}
\inode{c8rN}{295}{c8rK,c8rLx}
\inode{c8rO}{288}{c8rJ,c8rN}
\inode{c8rP}{329}{c8r25,c8r26}
\inode{c8rQ}{282}{c8rO,c8rP}
\inode{c8rR}{329}{c8r27,c8r28}
\inode{c8rS}{274}{c8rQ,c8rR}
\ctr{c8rS}{c8c}
% ---- Obligate biotrophs
\node[ttl,font=\ttlfont\bfseries] (t11) at (250,1263) {Obligate biotrophs};
\def\XL{163}
\lfL{col1}{1274}{Hya nesliae}
\lfL{col2}{1286}{Hya sisymbrii sophiae}
\lfL{col3}{1298}{Peronospora aparines}
\lfL{col4}{1310}{Peronospora calotheca}
\lfL{col5}{1321}{Peronospora sherardiae}
\lfL{col6}{1333}{Peronospora radii}
\lfL{col7}{1345}{Pse cubensis}
\lfL{col8}{1357}{Peronospora conglomerata}
\lfL{col9}{1368}{Peronospora valerianellae}
\lfL{col10}{1380}{Peronospora violae}
\lfL{col11}{1392}{Bas entospora}
\lfL{col12}{1404}{Pla anemones ranunculoidis}
\lfL{col13}{1417}{Plasmopara euphrasiae}
\lfL{col14}{1429}{Plasmopara nivea}
\lfL{col15}{1440}{Plasmopara pusilla}
\lfL{col16}{1453}{Alb candida (2)\sL}
\coordinate (coc) at (246,1273); \coordinate (cocb) at (246,1457);
\draw[br] (coc) -- (cocb);
\inode{colA}{174}{col1,col2}
\ctr{colA}{coc}
\inode{colB}{174}{col3,col4}
\inode{colC}{183}{colB,col5}
\inode{colD}{191}{colC,col6}
\inode{colE}{199}{colD,col7}
\inode{colF}{208}{colE,col8}
\inode{colG}{216}{colF,col9}
\inode{colH}{225}{colG,col10}
\ctr{colH}{coc}
\ctr{col11}{coc}
\ctr{col12}{coc}
\inode{colI}{173}{col13,col14}
\inode{colJ}{181}{colI,col15}
\ctr{colJ}{coc}
\ctr{col16}{coc}
\def\XR{332}
\lfR{cor1}{1275}{Hya nesliae}
\lfR{cor2}{1287}{Hya sisymbrii sophiae}
\lfR{cor3}{1298}{Pse cubensis}
\lfR{cor4}{1309}{Peronospora aparines}
\lfR{cor5}{1321}{Peronospora calotheca}
\lfR{cor6}{1333}{Peronospora sherardiae}
\lfR{cor7}{1345}{Peronospora violae}
\lfR{cor8}{1356}{Peronospora radii}
\lfR{cor9}{1369}{Peronospora conglomerata}
\lfR{cor10}{1381}{Peronospora valerianellae}
\lfR{cor11}{1394}{Bas entospora}
\lfR{cor12}{1408}{Pla anemones ranunculoidis}
\lfR{cor13}{1420}{Plasmopara pusilla}
\lfR{cor14}{1431}{Plasmopara euphrasiae}
\lfR{cor15}{1442}{Plasmopara nivea}
\lfR{cor16}{1453}{\sR Alb candida (2)}
\inode{corA}{323}{cor1,cor2}
\ctr{corA}{coc}
\ctr{cor3}{coc}
\inode{corB}{323}{cor4,cor5}
\inode{corC}{315}{corB,cor6}
\inode{corD}{308}{corC,cor7}
\inode{corE}{302}{corD,cor8}\gry{corD}{corE}
\inode{corF}{295}{corE,cor9}
\inode{corG}{288}{corF,cor10}
\ctrg{corG}{coc}
\ctr{cor11}{coc}
\inode{corI}{323}{cor12,cor13}
\inode{corJ}{315}{corI,cor14}
\ctrg{corJ}{coc}
\ctr{cor15}{coc}
\ctr{cor16}{coc}
% ---- Apodachlya
\node[ttl,font=\ttlfont\bfseries\itshape] (t12) at (246,1477) {Apodachlya};
\def\XL{133}
\lfL{cal1}{1493}{Apo brachynema (2)\sL}
\lfL{cal2}{1505}{Apo minima}
\coordinate (cac) at (247,1491); \coordinate (cacb) at (247,1503);
\draw[br] (cac) -- (cacb);
\inode{calA}{146}{cal1,cal2}
\ctr{calA}{cac}
\def\XR{355}
\lfR{car1}{1494}{\sR Apo brachynema (2)}
\lfR{car2}{1506}{Apo minima}
\inode{carA}{321}{car1,car2}
\ctr{carA}{cac}
% ---- Leptolegniaceae
\node[ttl,font=\ttlfont\bfseries] (t13) at (246,1533) {Leptolegniaceae};
\def\XL{133}
\lfL{cll1}{1546}{Aph cladogamus (3)\sL}
\lfL{cll2}{1558}{Aph cochlioides}
\lfL{cll3}{1570}{Aph euteiches (5)\sL}
\lfL{cll4}{1581}{Aph iridis*}
\lfL{cll5}{1594}{Ple myriandra}
\lfL{cll6}{1605}{Aph laevis}
\lfL{cll7}{1618}{Aph sp}
\lfL{cll8}{1629}{Lep caudata}
\lfL{cll9}{1639}{Lep sp}
\coordinate (clc) at (247,1557); \coordinate (clcb) at (247,1657);
\draw[br] (clc) -- (clcb);
\inode{cllA}{145}{cll1,cll2}
\inode{cllB}{153}{cllA,cll3}
\inode{cllC}{161}{cllB,cll4}
\inode{cllD}{170}{cllC,cll5}
\inode{cllE}{145}{cll6,cll7}
\inode{cllF}{178}{cllD,cllE}
\ctr{cllF}{clc}
\inode{cllG}{147}{cll8,cll9}
\ctr{cllG}{clc}
\def\XR{355}
\lfR{clr1}{1555}{\sR Aph cladogamus (3)}
\lfR{clr2}{1568}{Aph cochlioides}
\lfR{clr3}{1579}{Aph iridis*}
\lfR{clr4}{1591}{\sR Aph euteiches (5)}
\lfR{clr5}{1604}{Aph laevis}
\lfR{clr6}{1615}{Aph sp}
\lfR{clr7}{1628}{Ple myriandra}
\lfR{clr8}{1639}{Lep sp}
\lfR{clr9}{1651}{Lep caudata}
\inode{clrA}{347}{clr2,clr3}
\inode{clrB}{339}{clrA,clr4}
\inode{clrC}{332}{clr1,clrB}
\inode{clrD}{345}{clr5,clr6}
\inode{clrE}{325}{clrC,clrD}
\ctr{clrE}{clc}
\ctr{clr7}{clc}
\ctr{clr8}{clc}
\ctr{clr9}{clc}
% ================= PANEL D =================
\node[pnl] (pd) at (562,895) {(d)};
\node[hdr] (itsd) at (570,921) {ITS};
\node[hdr] (coid) at (1015,921) {COI};
\node[ttl,font=\ttlfont\bfseries] (t14) at (792,921) {Saprolegniaceae};
\def\XL{681}
\lfL{dl1}{937}{Ach ambisexualis}
\lfL{dl2}{948}{Ach ambisexualis}
\lfL{dl3}{961}{Ach bisexualis}
\lfL{dl4}{972}{Ach heterosexualis}
\lfL{dl5}{984}{Ach heterosexualis}
\lfL{dl6}{995}{Ach bisexualis}
\lfL{dl7}{1008}{Ach conspicua}
\lfL{dl8}{1020}{Ach flagellata (3)\sL}
\lfL{dl9}{1032}{Ach caroliniana}
\lfL{dl10}{1043}{Ach americana}
\lfL{dl11}{1055}{Ach aquatica*}
\lfL{dl12}{1066}{Ach dubia}
\lfL{dl13}{1079}{Ach glomerata}
\lfL{dl14}{1090}{Ach bisexualis}
\lfL{dl15}{1103}{Ach recurva}
\lfL{dl16}{1114}{Ach dubia}
\lfL{dl17}{1126}{Thr clavata}
\lfL{dl18}{1137}{Thr terrestris*}
\lfL{dl19}{1149}{Thr clavata}
\lfL{dl20}{1161}{Ach colorata (2)\sL}
\lfL{dl21}{1173}{Ach racemosa (3)\sL}
\lfL{dl22}{1185}{Ach sparrowii*}
\lfL{dl23}{1197}{Ach radiosa}
\lfL{dl24}{1208}{Sap turfosa (3)\sL}
\lfL{dl25}{1220}{Pythiopsis terrestris (2)\sL}
\lfL{dl26}{1232}{Sap megasperma}
\lfL{dl27}{1244}{Sap anisospora}
\lfL{dl28}{1256}{Sap eccentrica (3)\sL}
\lfL{dl29}{1268}{Sap litoralis}
\lfL{dl30}{1279}{Pro paradoxa (2)\sL}
\lfL{dl31}{1291}{Sap monoica (2)\sL}
\lfL{dl32}{1303}{Ach oligocantha}
\lfL{dl33}{1315}{Ach papillosa}
\lfL{dl34}{1327}{Ach spinosa}
\lfL{dl35}{1339}{Sap asterophora}
\lfL{dl36}{1350}{Sap delica}
\lfL{dl37}{1362}{Sap parasitica}
\lfL{dl38}{1374}{Sap parasitica}
\lfL{dl39}{1386}{Sap parasitica}
\lfL{dl40}{1398}{Sap hypogyna}
\lfL{dl41}{1410}{Sap diclina}
\lfL{dl42}{1421}{Sap mixta}
\lfL{dl43}{1433}{Sap ferax}
\lfL{dl44}{1445}{Sap ferax}
\lfL{dl45}{1456}{Sap ferax}
\lfL{dl46}{1468}{Sap lapponica}
\lfL{dl47}{1480}{Sap parasitica}
\lfL{dl48}{1492}{Sap ferax}
\lfL{dl49}{1504}{Sap unispora}
\lfL{dl50}{1516}{Sap mixta}
\lfL{dl51}{1527}{Sap ferax}
\lfL{dl52}{1539}{Sap delica}
\lfL{dl53}{1551}{Sap parasitica}
\lfL{dl54}{1563}{Sap sp}
\lfL{dl55}{1575}{Sap diclina (2)\sL}
\lfL{dl56}{1587}{Sap litoralis}
\lfL{dl57}{1598}{Sap parasitica}
\lfL{dl58}{1610}{Sap monilifera (2)\sL}
\lfL{dl59}{1622}{Sap unispora}
\lfL{dl60}{1634}{Sap terrestris (2)\sL}
\lfL{dl61}{1645}{Sap rodrigueziana}
\lfL{dl62}{1658}{Sap subterranea}
\lfL{dl63}{1670}{Sap subterranea}
\lfL{dl64}{1683}{Bre unisperma var delica}
\lfL{dl65}{1695}{Bre variabilis}
\coordinate (dc) at (793,935); \coordinate (dcb) at (793,1707);
\draw[br] (dc) -- (dcb);
\vbr{dV1}{685}{dl2}{dl5}
\inode{dA}{716}{dl1,dV1}
\inode{dB0}{692}{dl6,dl7}
\inode{dB1}{699}{dB0,dl8}\gry{dB0}{dB1}
\inode{dB}{708}{dB1,dl9}
\inode{dC}{725}{dA,dB}
\vbr{dV2}{685}{dl10}{dl13}
\inode{dD}{733}{dC,dV2}
\inode{dE0}{692}{dl14,dl15}
\inode{dE}{741}{dD,dE0}\gry{dE0}{dE}
\vbr{dV3}{685}{dl17}{dl19}
\inode{dF}{708}{dl16,dV3}
\inode{dG}{750}{dE,dF}\gry{dE}{dG}
\ctr{dG}{dc}
\inode{dH0}{692}{dl21,dl22}
\inode{dH1}{699}{dl20,dH0}
\inode{dH2}{708}{dH1,dl23}
\inode{dH3}{716}{dH2,dl24}
\inode{dI0}{692}{dl25,dl26}
\inode{dI1}{700}{dI0,dl27}
\inode{dH4}{725}{dH3,dI1}
\inode{dJ0}{692}{dl28,dl29}
\inode{dH5}{733}{dH4,dJ0}
\inode{dK0}{686}{dl30,dl31}
\inode{dH6}{741}{dH5,dK0}
\inode{dL0}{692}{dl33,dl34}
\inode{dL1}{700}{dl32,dL0}
\inode{dH7}{750}{dH6,dL1}
\inode{dH8}{758}{dH7,dl35}
\ctrg{dH8}{dc}
\vbr{dV4}{685}{dl37}{dl38}
\inode{dM0}{700}{dl36,dV4}
\inode{dM1}{708}{dM0,dl39}
\inode{dM2}{716}{dM1,dl40}
\vbr{dV5}{685}{dl41}{dl47}
\vbr{dV6}{685}{dl48}{dl51}
\inode{dN}{725}{dV5,dV6}\gry{dV5}{dN}
\inode{dO}{733}{dM2,dN}
\inode{dP0}{692}{dl53,dl54}
\inode{dP1}{700}{dl52,dP0}
\inode{dP2}{708}{dP1,dl55}
\inode{dQ}{741}{dO,dP2}\gry{dP2}{dQ}
\inode{dR}{749}{dQ,dl56}
\inode{dS}{758}{dR,dl57}
\vbr{dV7}{686}{dl58}{dl60}
\inode{dT}{766}{dS,dV7}
\vbr{dV8}{686}{dl61}{dl63}
\inode{dU}{774}{dT,dV8}\gry{dV8}{dU}
\ctr{dU}{dc}
\inode{dW}{691}{dl64,dl65}
\ctr{dW}{dc}
\def\XR{900}
\lfR{dr1}{938}{Ach ambisexualis}
\lfR{dr2}{950}{Ach heterosexualis}
\lfR{dr3}{962}{Ach bisexualis}
\lfR{dr4}{974}{Ach ambisexualis}
\lfR{dr5}{986}{Ach heterosexualis}
\lfR{dr6}{998}{Ach bisexualis}
\lfR{dr7}{1010}{\sR Ach flagellata (3)}
\lfR{dr8}{1022}{Ach caroliniana}
\lfR{dr9}{1034}{Ach conspicua}
\lfR{dr10}{1045}{Ach americana}
\lfR{dr11}{1058}{Ach aquatica*}
\lfR{dr12}{1069}{Ach dubia}
\lfR{dr13}{1082}{Ach glomerata}
\lfR{dr14}{1094}{Ach dubia}
\lfR{dr15}{1105}{Ach bisexualis}
\lfR{dr16}{1118}{Ach recurva}
\lfR{dr17}{1129}{Thr clavata}
\lfR{dr18}{1140}{Thr terrestris*}
\lfR{dr19}{1154}{Thr clavata}
\lfR{dr20}{1165}{\sR Ach colorata (2)}
\lfR{dr21}{1177}{Ach sparrowii*}
\lfR{dr22}{1189}{\sR Ach racemosa (3)}
\lfR{dr23}{1201}{\sR Sap turfosa (3)}
\lfR{dr24}{1213}{Ach radiosa}
\lfR{dr25}{1225}{\sR Pro paradoxa (2)}
\lfR{dr26}{1237}{Sap asterophora}
\lfR{dr27}{1249}{\sR Sap monoica (2)}
\lfR{dr28}{1261}{Ach oligocantha}
\lfR{dr29}{1273}{\sR Pythiopsis terrestris (2)}
\lfR{dr30}{1285}{Sap megasperma}
\lfR{dr31}{1297}{\sR Sap eccentrica (3)}
\lfR{dr32}{1309}{Sap litoralis}
\lfR{dr33}{1321}{Sap delica}
\lfR{dr34}{1332}{Sap parasitica}
\lfR{dr35}{1345}{Sap delica}
\lfR{dr36}{1357}{\sR Sap diclina (2)}
\lfR{dr37}{1369}{Sap diclina}
\lfR{dr38}{1381}{Sap lapponica}
\lfR{dr39}{1392}{Sap parasitica}
\lfR{dr40}{1404}{Sap ferax}
\lfR{dr41}{1417}{Sap ferax}
\lfR{dr42}{1428}{Sap parasitica}
\lfR{dr43}{1441}{Sap sp}
\lfR{dr44}{1452}{Sap ferax}
\lfR{dr45}{1464}{Sap mixta}
\lfR{dr46}{1477}{Sap ferax}
\lfR{dr47}{1488}{Sap mixta}
\lfR{dr48}{1500}{Sap ferax}
\lfR{dr49}{1512}{Sap unispora}
\lfR{dr50}{1524}{Sap hypogyna}
\lfR{dr51}{1537}{Sap parasitica}
\lfR{dr52}{1548}{Sap parasitica}
\lfR{dr53}{1560}{Sap litoralis}
\lfR{dr54}{1572}{\sR Sap monilifera (2)}
\lfR{dr55}{1584}{Sap unispora}
\lfR{dr56}{1595}{\sR Sap terrestris (2)}
\lfR{dr57}{1608}{Sap parasitica}
\lfR{dr58}{1620}{Sap rodrigueziana}
\lfR{dr59}{1632}{Sap subterranea}
\lfR{dr60}{1644}{Sap subterranea}
\lfR{dr61}{1655}{Ach papillosa}
\lfR{dr62}{1668}{Ach spinosa}
\lfR{dr63}{1680}{Sap anisospora}
\lfR{dr64}{1692}{Bre unisperma var delica}
\lfR{dr65}{1704}{Bre variabilis}
\vbr{eV1}{895}{dr1}{dr2}
\inode{eA1}{884}{eV1,dr3}
\inode{eA2}{877}{eA1,dr4}
\inode{eA3}{870}{eA2,dr5}
\inode{eB0}{890}{dr6,dr7}
\inode{eB1}{890}{dr8,dr9}
\inode{eB}{884}{eB0,eB1}
\inode{eA4}{863}{eA3,eB}\gry{eB}{eA4}
\inode{eC0}{890}{dr10,dr11}
\vbr{eV2}{895}{dr12}{dr13}
\inode{eC1}{884}{eC0,eV2}
\inode{eC2}{877}{eC1,dr14}
\inode{eC3}{890}{dr15,dr16}
\inode{eC4}{870}{eC2,eC3}\gry{eC2}{eC4}\gry{eC3}{eC4}
\inode{eD0}{890}{dr17,dr18}
\inode{eD1}{884}{eD0,dr19}
\inode{eC5}{863}{eC4,eD1}
\inode{eE}{857}{eA4,eC5}\gry{eA4}{eE}
\ctrg{eE}{dc}
\inode{eF0}{890}{dr20,dr21}
\inode{eF1}{884}{eF0,dr22}
\inode{eF2}{877}{eF1,dr23}
\inode{eF3}{870}{eF2,dr24}
\inode{eF4}{864}{eF3,dr25}
\inode{eG0}{890}{dr26,dr27}
\inode{eG}{857}{eF4,eG0}
\ctrg{eG}{dc}
\inode{eH0}{890}{dr29,dr30}
\inode{eH1}{890}{dr31,dr32}
\inode{eH2}{884}{eH0,eH1}
\inode{eH}{877}{dr28,eH2}\gry{eH2}{eH}
\ctrg{eH}{dc}
\vbr{eV3}{895}{dr33}{dr34}
\inode{eI0}{884}{eV3,dr35}
\inode{eI1}{890}{dr38,dr39}
\inode{eI2}{884}{dr37,eI1}
\inode{eI3}{890}{dr40,dr41}
\inode{eI4}{890}{dr42,dr43}
\inode{eI5}{884}{eI3,eI4}\gry{eI3}{eI5}
\inode{eI6}{877}{eI2,eI5}
\inode{eJ0}{890}{dr44,dr45}
\vbr{eV4}{895}{dr46}{dr47}
\inode{eJ1}{884}{eJ0,eV4}\gry{eJ0}{eJ1}
\vbr{eV5}{895}{dr48}{dr49}
\inode{eJ2}{877}{eJ1,eV5}
\inode{eJ3}{870}{eJ2,dr50}
\inode{eJ4}{863}{eI6,eJ3}
\inode{eK0}{857}{dr36,eJ4}
\inode{eK1}{850}{eI0,eK0}
\inode{eL0}{890}{dr51,dr52}
\inode{eK2}{844}{eK1,eL0}
\inode{eK3}{837}{eK2,dr53}
\ctr{eK3}{dc}
\vbr{eV6}{895}{dr54}{dr55}
\inode{eM0}{884}{eV6,dr56}
\vbr{eV7}{895}{dr58}{dr59}
\inode{eM1}{884}{eV7,dr60}
\inode{eM2}{877}{dr57,eM1}
\inode{eM3}{870}{eM0,eM2}\gry{eM2}{eM3}
\ctr{eM3}{dc}
\inode{eN}{890}{dr61,dr62}
\ctr{eN}{dc}
\ctr{dr63}{dc}
\inode{eO}{890}{dr64,dr65}
\ctrg{eO}{dc}
\end{tikzpicture}
\end{document}
